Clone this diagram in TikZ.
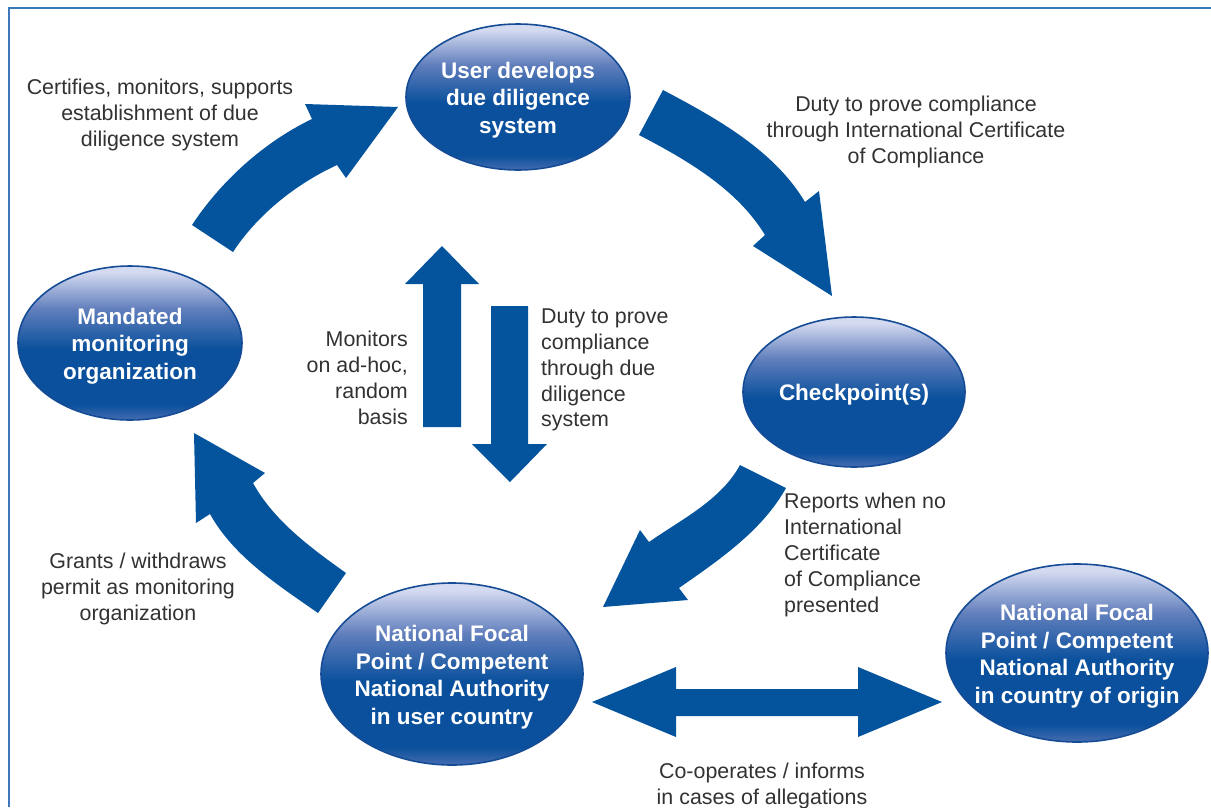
\documentclass[tikz,border=0pt]{standalone}
\usepackage{fontspec}
\setmainfont{Liberation Sans}
\usetikzlibrary{shapes.geometric}
\definecolor{arrowblue}{RGB}{3,83,157}
\definecolor{frameblue}{RGB}{60,121,186}
\definecolor{txtgray}{RGB}{50,50,50}
\definecolor{elllight}{RGB}{212,218,240}
\definecolor{ellmid}{RGB}{96,126,188}
\definecolor{elldark}{RGB}{10,80,156}
\definecolor{ellrim}{RGB}{70,108,176}
\definecolor{ellline}{RGB}{22,76,150}
\pgfdeclareverticalshading{ellshade}{100bp}{color(0bp)=(ellrim); color(25bp)=(ellrim); color(30bp)=(elldark); color(48bp)=(elldark); color(61bp)=(ellmid); color(73bp)=(elllight); color(75bp)=(elllight); color(100bp)=(elllight)}
\tikzset{
  bubble/.style={ellipse, shading=ellshade, draw=ellline, line width=1.6pt, inner sep=0pt},
  bubbletext/.style={text=white, align=center, inner sep=0pt, yshift=-3pt, font=\bfseries\fontsize{22.5}{27.5}\selectfont},
  lbl/.style={text=txtgray, inner sep=0pt, yshift=-2pt, font=\fontsize{21.4}{25.9}\selectfont},
  blockarrow/.style={fill=arrowblue}
}
\begin{document}
\begin{tikzpicture}[x=1pt,y=-1pt]
\useasboundingbox (0,0) rectangle (1211,807);
\fill[white] (0,0) rectangle (1211,807);
\draw[frameblue, line width=2pt] (9,807) -- (9,8) -- (1211,8);

% ellipses
\node[bubble, minimum width=224, minimum height=146,
  label={[bubbletext]center:{User develops\\due diligence\\system}}] (user) at (518,97) {};
\node[bubble, minimum width=224, minimum height=154,
  label={[bubbletext]center:{Mandated\\monitoring\\organization}}] (mandated) at (130,343) {};
\node[bubble, minimum width=222, minimum height=150,
  label={[bubbletext]center:{Checkpoint(s)}}] (check) at (854,392) {};
\node[bubble, minimum width=262, minimum height=182,
  label={[bubbletext]center:{National Focal\\Point / Competent\\National Authority\\in user country}}] (nfpuser) at (452,674) {};
\node[bubble, minimum width=262, minimum height=178,
  label={[bubbletext]center:{National Focal\\Point / Competent\\National Authority\\in country of origin}}] (nfporigin) at (1077,653) {};

% curved arrows
% A: mandated -> user
\fill[blockarrow] (192,225) .. controls (221,181) and (264,142) .. (312,119)
  -- (305,104) -- (398,107) -- (346,178) -- (337,165)
  .. controls (296,184) and (258,214) .. (233,252) -- cycle;
% B: user -> checkpoint
\fill[blockarrow] (663,90) .. controls (716,118) and (774,150) .. (805,202)
  -- (819,191) -- (832,296) -- (753,246) -- (765,235)
  .. controls (737,189) and (687,160) .. (639,135) -- cycle;
% C: checkpoint -> national focal point (user)
\fill[blockarrow] (740,465) .. controls (721,500) and (682,519) .. (649,542)
  -- (640,530) -- (603,607) -- (688,600) -- (679,588)
  .. controls (719,560) and (762,531) .. (786,488) -- cycle;
% D: national focal point (user) -> mandated
\fill[blockarrow] (318,613) .. controls (278,585) and (234,557) .. (210,514)
  -- (196,523) -- (194,433) -- (265,473) -- (253,483)
  .. controls (274,521) and (311,548) .. (346,573) -- cycle;

% straight arrows
\fill[blockarrow] (423,427) -- (423,284) -- (405,284) -- (442,246) -- (479,284) -- (461,284) -- (461,427) -- cycle;
\fill[blockarrow] (491,306) -- (528,306) -- (528,444) -- (547,444) -- (510,482) -- (472,444) -- (491,444) -- cycle;
\fill[blockarrow] (592,702) -- (676,667) -- (676,689) -- (858,689) -- (858,667) -- (942,702)
  -- (858,737) -- (858,716) -- (676,716) -- (676,737) -- cycle;

% labels
\node[lbl, align=center] (t1) at (160,113) {Certifies, monitors, supports\\establishment of due\\diligence system};
\node[lbl, align=center] (t2) at (916,130) {Duty to prove compliance\\through International Certificate\\of Compliance};
\node[lbl, align=right, anchor=east] (t3) at (408,376) {Monitors\\on ad-hoc,\\random\\basis};
\node[lbl, align=left, anchor=west] (t4) at (541,368) {Duty to prove\\compliance\\through due\\diligence\\system};
\node[lbl, align=left, anchor=west] (t5) at (784,553) {Reports when no\\International\\Certificate\\of Compliance\\presented};
\node[lbl, align=center] (t6) at (138,587) {Grants / withdraws\\permit as monitoring\\organization};
\node[lbl, align=center] (t7) at (762,784) {Co-operates / informs\\in cases of allegations};
\end{tikzpicture}
\end{document}
